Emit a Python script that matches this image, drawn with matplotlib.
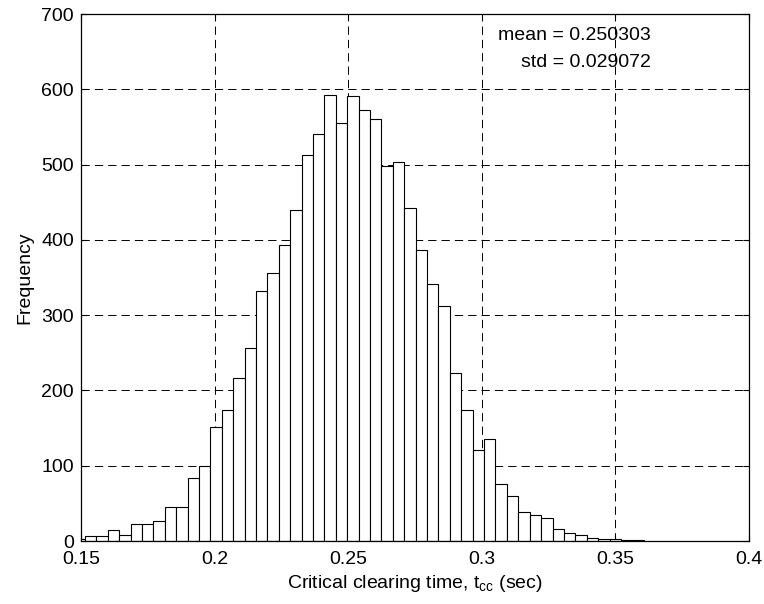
import numpy as np
import matplotlib
matplotlib.use("Agg")
import matplotlib.pyplot as plt

plt.rcParams['font.family'] = ['Liberation Sans', 'DejaVu Sans']
plt.rcParams['mathtext.fontset'] = 'custom'
plt.rcParams['mathtext.rm'] = 'Liberation Sans'
plt.rcParams['mathtext.default'] = 'regular'
plt.rcParams['lines.scale_dashes'] = False

# histogram of critical clearing time (50 bins)
bin_lo = 0.1472
bin_hi = 0.3607
counts = [3, 7, 7, 14, 8, 22, 22, 27, 45, 45,
          84, 100, 151, 174, 217, 256, 332, 356, 393, 440,
          513, 540, 593, 555, 591, 572, 560, 498, 503, 442,
          386, 342, 312, 223, 174, 121, 135, 76, 60, 38,
          35, 31, 16, 11, 8, 4, 3, 2, 1, 1]
mean_txt = "mean = 0.250303"
std_txt = "std = 0.029072"

xticks = [0.15, 0.2, 0.25, 0.3, 0.35, 0.4]
xticklabels = ['0.15', '0.2', '0.25', '0.3', '0.35', '0.4']
yticks = [0, 100, 200, 300, 400, 500, 600, 700]

edges = np.linspace(bin_lo, bin_hi, len(counts) + 1)

fig = plt.figure(figsize=(7.64, 6.04), dpi=100)
ax = fig.add_axes([0.106, 0.1043, 0.874, 0.8725])

ax.bar(edges[:-1], counts, width=np.diff(edges), align='edge',
       color='white', edgecolor='black', linewidth=0.8)

ax.set_xlim(0.15, 0.4)
ax.set_ylim(0, 700)
ax.set_xticks(xticks)
ax.set_xticklabels(xticklabels)
ax.set_yticks(yticks)

ax.set_axisbelow(True)
ax.grid(True, color='black', linewidth=0.7, linestyle=(0, (6, 3.6)))

ax.tick_params(direction='in', length=4, width=0.8, top=True, right=True,
               labelsize=14)
ax.tick_params(axis='x', pad=7)
ax.tick_params(axis='y', pad=5)
for s in ax.spines.values():
    s.set_linewidth(0.9)

ax.text(0.3632, 672, mean_txt, ha='right', va='center', fontsize=14, zorder=0.1)
ax.text(0.3632, 636, std_txt, ha='right', va='center', fontsize=14, zorder=0.1)

ax.set_xlabel('Critical clearing time, t$_{cc}$ (sec)', fontsize=14, labelpad=4)
ax.set_ylabel('Frequency', fontsize=14, labelpad=6)

fig.savefig('out.png', dpi=100)
